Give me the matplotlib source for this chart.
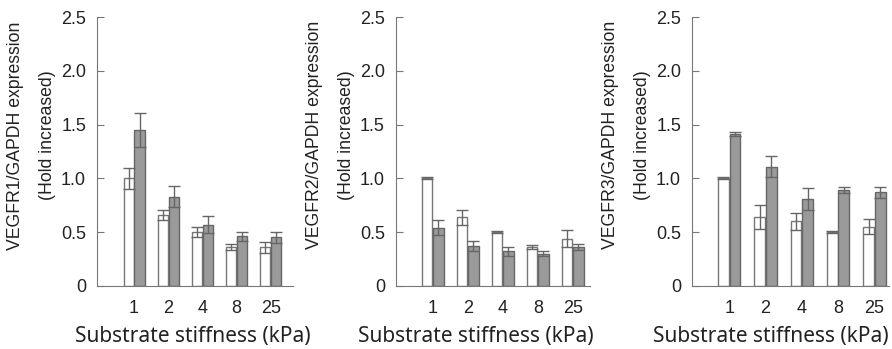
import matplotlib
matplotlib.use("Agg")
import matplotlib.pyplot as plt
import numpy as np

# stiffness groups (kPa)
stiffness = ["1", "2", "4", "8", "25"]

# VEGFR1
r1_white = [1.00, 0.66, 0.50, 0.36, 0.36]
r1_white_err = [0.10, 0.05, 0.05, 0.03, 0.05]
r1_gray = [1.45, 0.83, 0.57, 0.46, 0.45]
r1_gray_err = [0.16, 0.10, 0.08, 0.04, 0.05]

# VEGFR2
r2_white = [1.00, 0.64, 0.50, 0.36, 0.44]
r2_white_err = [0.01, 0.07, 0.01, 0.02, 0.08]
r2_gray = [0.54, 0.37, 0.32, 0.30, 0.36]
r2_gray_err = [0.07, 0.05, 0.04, 0.02, 0.03]

# VEGFR3
r3_white = [1.00, 0.64, 0.60, 0.50, 0.55]
r3_white_err = [0.01, 0.11, 0.08, 0.01, 0.07]
r3_gray = [1.41, 1.11, 0.81, 0.89, 0.87]
r3_gray_err = [0.02, 0.10, 0.10, 0.03, 0.05]

ylabels = ["VEGFR1/GAPDH expression\n(Hold increased)",
           "VEGFR2/GAPDH expression\n(Hold increased)",
           "VEGFR3/GAPDH expression\n(Hold increased)"]

plt.rcParams['font.family'] = ['Liberation Sans', 'DejaVu Sans']

fig = plt.figure(figsize=(8.92, 3.49), dpi=100)
# left, width (in figure fraction) of each axes
boxes = [(0.109, 0.219), (0.444, 0.217), (0.776, 0.221)]
xlims = [(-1.08, 4.64), (-1.05, 4.48), (-1.02, 4.41)]
xlab_x = [0.49, 0.41, 0.40]
data = [(r1_white, r1_white_err, r1_gray, r1_gray_err),
        (r2_white, r2_white_err, r2_gray, r2_gray_err),
        (r3_white, r3_white_err, r3_gray, r3_gray_err)]

axcol = "#777777"
txtcol = "#222222"
x = np.arange(len(stiffness))
w = 0.30
for i in range(3):
    ax = fig.add_axes([boxes[i][0], 0.181, boxes[i][1], 0.770])
    wv, we, gv, ge = data[i]
    ekw = dict(ecolor="#666666", elinewidth=1.0, capsize=4, capthick=1.0)
    ax.bar(x - w / 2 - 0.01, wv, w, yerr=we, color="white", edgecolor="#777777",
           linewidth=1.0, error_kw=ekw)
    ax.bar(x + w / 2 + 0.01, gv, w, yerr=ge, color="#9a9a9a", edgecolor="#666666",
           linewidth=1.0, error_kw=ekw)
    ax.set_xlim(*xlims[i])
    ax.set_ylim(0, 2.5)
    ax.set_yticks([0, 0.5, 1.0, 1.5, 2.0, 2.5])
    ax.set_yticklabels(["0", "0.5", "1.0", "1.5", "2.0", "2.5"])
    ax.set_xticks(x)
    ax.set_xticklabels(stiffness)
    ax.spines["top"].set_visible(False)
    ax.spines["right"].set_visible(False)
    ax.spines["left"].set_color(axcol)
    ax.spines["bottom"].set_color(axcol)
    ax.tick_params(axis="y", direction="in", length=5, color=axcol,
                   labelsize=13, pad=8, labelcolor=txtcol)
    ax.tick_params(axis="x", length=0, labelsize=13, pad=10,
                   labelcolor=txtcol)
    ax.set_ylabel(ylabels[i], fontsize=12.7, color=txtcol, linespacing=2.15)
    ax.yaxis.set_label_coords(-0.21, 0.56)
    ax.set_xlabel("Substrate stiffness (kPa)", fontsize=15, color=txtcol,
                  family=["Noto Sans", "DejaVu Sans"], va="center")
    ax.xaxis.set_label_coords(xlab_x[i], -0.19)

fig.savefig("out.png", dpi=100)
